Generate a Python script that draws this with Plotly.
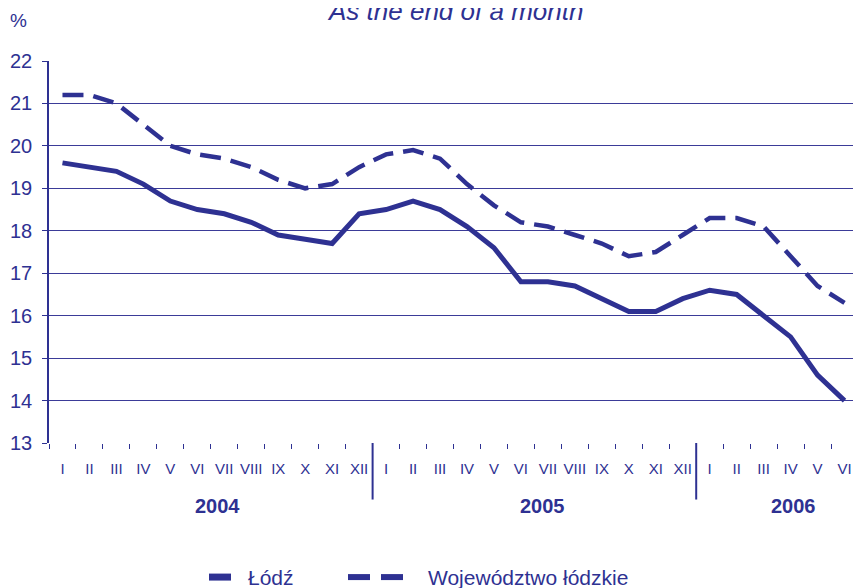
import plotly.graph_objects as go

months = ["I","II","III","IV","V","VI","VII","VIII","IX","X","XI","XII",
          "I","II","III","IV","V","VI","VII","VIII","IX","X","XI","XII",
          "I","II","III","IV","V","VI"]
years = ["2004", "2005", "2006"]
year_label_pos = [5.75, 17.8, 27.1]
series_names = ["Łódź", "Województwo łódzkie"]
lodz = [19.6, 19.5, 19.4, 19.1, 18.7, 18.5, 18.4, 18.2, 17.9, 17.8, 17.7, 18.4,
        18.5, 18.7, 18.5, 18.1, 17.6, 16.8, 16.8, 16.7, 16.4, 16.1, 16.1, 16.4,
        16.6, 16.5, 16.0, 15.5, 14.6, 14.0]
woj = [21.2, 21.2, 21.0, 20.5, 20.0, 19.8, 19.7, 19.5, 19.2, 19.0, 19.1, 19.5,
       19.8, 19.9, 19.7, 19.1, 18.6, 18.2, 18.1, 17.9, 17.7, 17.4, 17.5, 17.9,
       18.3, 18.3, 18.1, 17.4, 16.7, 16.3]

BLUE = "#2e3192"
FONT = "Liberation Sans, Arial, sans-serif"
x = list(range(len(months)))

fig = go.Figure()
fig.add_trace(go.Scatter(x=x, y=lodz, mode="lines", name=series_names[0],
                         line=dict(color=BLUE, width=5)))
fig.add_trace(go.Scatter(x=x, y=woj, mode="lines", name=series_names[1],
                         line=dict(color=BLUE, width=4.5, dash="21px,10px")))

boundaries = [i - 0.5 for i in range(len(months) + 1)]
fig.update_xaxes(range=[-0.5, len(months) - 0.5], tickmode="array", tickvals=x,
                 ticktext=months, ticks="", showgrid=False, zeroline=False,
                 automargin=False,
                 tickfont=dict(family=FONT, size=15, color=BLUE),
                 ticklabelstandoff=15,
                 minor=dict(tickmode="array", tickvals=boundaries, ticks="outside",
                            ticklen=5, tickcolor=BLUE, showgrid=False),
                 showline=False)
fig.update_yaxes(range=[13, 22], dtick=1, showgrid=True, gridcolor="#3b3b98",
                 gridwidth=1, zeroline=False, showline=True, linecolor=BLUE,
                 linewidth=1.5, mirror=False, ticks="outside", ticklen=5,
                 automargin=False, ticklabelstandoff=6,
                 tickcolor=BLUE, tickfont=dict(family=FONT, size=20, color=BLUE))

# right border (lighter)
fig.add_shape(type="line", xref="paper", yref="paper", x0=1, x1=1, y0=0, y1=1,
              line=dict(color="#8484c2", width=1.5))

# year separators
for i in (12, 24):
    fig.add_shape(type="line", xref="x", yref="paper", x0=i - 0.5, x1=i - 0.5,
                  y0=0, y1=-0.148, line=dict(color=BLUE, width=2))
for yl, xp in zip(years, year_label_pos):
    fig.add_annotation(x=xp, y=-0.165, xref="x", yref="paper", text="<b>%s</b>" % yl,
                       showarrow=False, yanchor="middle",
                       font=dict(family=FONT, size=20, color=BLUE))

fig.add_annotation(x=-0.038, y=1.105, xref="paper", yref="paper",
                   text="%", showarrow=False, xanchor="center", yanchor="middle",
                   font=dict(family=FONT, size=19, color=BLUE))
fig.add_annotation(x=0.502, y=1.13, xref="paper", yref="paper",
                   text="<i>As the end of a month</i>", showarrow=False,
                   yanchor="middle", font=dict(family=FONT, size=26, color=BLUE))

# custom legend
PW = 809.0
def px(p):
    return (p - 49) / PW
LY = -0.351
fig.add_shape(type="line", xref="paper", yref="paper", x0=px(209), x1=px(231),
              y0=LY, y1=LY, line=dict(color=BLUE, width=7))
fig.add_shape(type="line", xref="paper", yref="paper", x0=px(348), x1=px(370),
              y0=LY, y1=LY, line=dict(color=BLUE, width=6))
fig.add_shape(type="line", xref="paper", yref="paper", x0=px(381), x1=px(403),
              y0=LY, y1=LY, line=dict(color=BLUE, width=6))
fig.add_annotation(x=px(246), y=LY, xref="paper", yref="paper", text=series_names[0],
                   showarrow=False, xanchor="left", yanchor="middle",
                   font=dict(family=FONT, size=21, color=BLUE))
fig.add_annotation(x=px(426), y=LY, xref="paper", yref="paper", text=series_names[1],
                   showarrow=False, xanchor="left", yanchor="middle",
                   font=dict(family=FONT, size=21, color=BLUE))

# page body has an 8px margin: compensate so the figure lands at the right pixels
fig.update_layout(width=853, height=580, margin=dict(l=41, r=3, t=53, b=145),
                  plot_bgcolor="white", paper_bgcolor="white",
                  showlegend=False)

fig.write_html("out.html")
